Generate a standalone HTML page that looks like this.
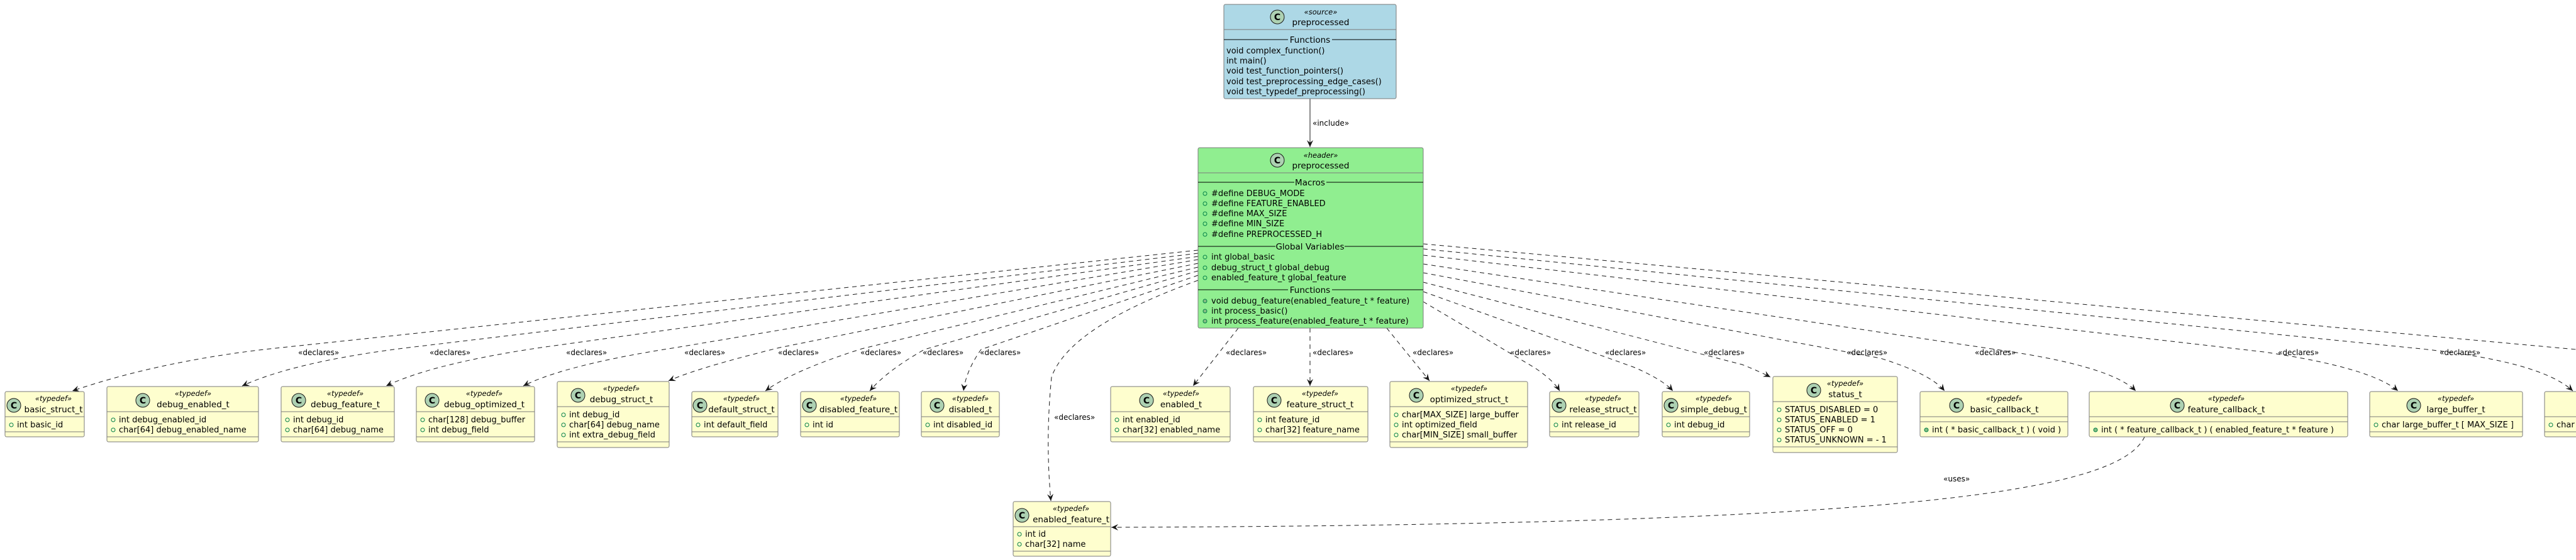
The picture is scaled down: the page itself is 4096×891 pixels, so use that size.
<!DOCTYPE html>
<html><head><meta charset="utf-8">
<style>
html,body{margin:0;padding:0;background:#fff;}
svg{display:block;}
text{font-family:"DejaVu Sans","Liberation Sans",sans-serif;fill:#000;}
.nm{font-size:13.5px;text-anchor:middle;}
.st{font-size:11.5px;font-style:italic;text-anchor:middle;}
.cl{font-size:14px;font-weight:bold;text-anchor:middle;}
.at{font-size:13px;}
.lb{font-size:12px;}
.sec{font-size:13.5px;text-anchor:middle;}
.bx{fill:#FEFECE;stroke:#7a7a7a;stroke-width:1;}
.dv{stroke:#7a7a7a;stroke-width:1;}
.ci{fill:#ADD1B2;stroke:#181818;stroke-width:1;}
.fm{fill:none;stroke:#038048;stroke-width:1;}
.mm{fill:#84BE84;stroke:#038048;stroke-width:1;}
.ed{fill:none;stroke:#181818;stroke-width:1;stroke-dasharray:7,6;}
</style></head>
<body>
<svg width="4096" height="891" viewBox="0 0 4096 891" xmlns="http://www.w3.org/2000/svg">
<defs>
<marker id="ah" viewBox="0 0 12 10" refX="11" refY="5" markerWidth="12" markerHeight="10" markerUnits="userSpaceOnUse" orient="auto">
<path d="M0,0 L11,5 L0,10 L4,5 z" fill="#181818"/>
</marker>
</defs>

<line x1="2083" y1="157" x2="2083" y2="234" stroke="#181818" stroke-width="1" marker-end="url(#ah)"/>
<text class="lb" x="2087" y="200">«include»</text>

<path class="ed" marker-end="url(#ah)" d="M1905,398 L420,556 Q250,576 115,622"/>
<path class="ed" marker-end="url(#ah)" d="M1905,403 L650,553 Q470,575 385,614"/>
<path class="ed" marker-end="url(#ah)" d="M1905,408 L860,553 Q690,578 614,614"/>
<path class="ed" marker-end="url(#ah)" d="M1905,413 L1075,553 Q900,580 832,614"/>
<path class="ed" marker-end="url(#ah)" d="M1905,419 L1240,553 Q1110,585 1063,606"/>
<path class="ed" marker-end="url(#ah)" d="M1905,425 L1370,555 Q1260,590 1217,622"/>
<path class="ed" marker-end="url(#ah)" d="M1905,431 L1470,556 Q1410,590 1383,622"/>
<path class="ed" marker-end="url(#ah)" d="M1905,438 L1560,556 Q1536,590 1532,622"/>
<path class="ed" marker-end="url(#ah)" d="M1905,446 Q1700,520 1672,600 Q1662,700 1671,797"/>

<text class="lb" x="474" y="565">«declares»</text>
<text class="lb" x="683" y="565">«declares»</text>
<text class="lb" x="900" y="565">«declares»</text>
<text class="lb" x="1088" y="565">«declares»</text>
<text class="lb" x="1237" y="565">«declares»</text>
<text class="lb" x="1368" y="565">«declares»</text>
<text class="lb" x="1467" y="565">«declares»</text>
<text class="lb" x="1558" y="565">«declares»</text>
<text class="lb" x="1676" y="668">«declares»</text>

<path class="ed" marker-end="url(#ah)" d="M1969,522 L1897,614"/>
<path class="ed" marker-end="url(#ah)" d="M2083,522 L2083,614"/>
<path class="ed" marker-end="url(#ah)" d="M2205,522 L2273,606"/>
<path class="ed" marker-end="url(#ah)" d="M2263,480 L2440,585 Q2470,605 2480,622"/>
<path class="ed" marker-end="url(#ah)" d="M2263,464 L2600,585 Q2645,605 2660,622"/>
<path class="ed" marker-end="url(#ah)" d="M2263,449 L2770,580 Q2800,592 2815,600"/>
<path class="ed" marker-end="url(#ah)" d="M2263,434 L2990,570 Q3070,595 3092,622"/>
<path class="ed" marker-end="url(#ah)" d="M2263,420 L3200,560 Q3360,585 3396,622"/>
<path class="ed" marker-end="url(#ah)" d="M2263,406 L3600,560 Q3770,585 3813,622"/>
<path class="ed" marker-end="url(#ah)" d="M2263,396 L3850,555 Q4040,575 4091,622"/>
<path class="ed" d="M2263,388 L4096,556"/>

<text class="lb" x="1949" y="565">«declares»</text>
<text class="lb" x="2087" y="565">«declares»</text>
<text class="lb" x="2246" y="565">«declares»</text>
<text class="lb" x="2401" y="565">«declares»</text>
<text class="lb" x="2552" y="565">«declares»</text>
<text class="lb" x="2709" y="565">«declares»</text>
<text class="lb" x="2936" y="565">«declares»</text>
<text class="lb" x="3140" y="565">«declares»</text>
<text class="lb" x="3622" y="565">«declares»</text>
<text class="lb" x="3879" y="565">«declares»</text>

<path class="ed" marker-end="url(#ah)" d="M3410,695 C3370,780 3050,835 1767,839"/>
<text class="lb" x="3090" y="766">«uses»</text>

<rect x="1946" y="7" width="274" height="150" rx="2.5" fill="#ADD8E6" stroke="#7a7a7a"/>
<circle class="ci" cx="2031" cy="27" r="11"/><text class="cl" x="2031" y="32">C</text>
<text class="st" x="2100" y="23">«source»</text>
<text class="nm" x="2100" y="40">preprocessed</text>
<line class="dv" x1="1946" y1="47" x2="2220" y2="47"/>
<line x1="1946" y1="63" x2="2048" y2="63" stroke="#000"/>
<line x1="2118" y1="63" x2="2220" y2="63" stroke="#000"/>
<text class="sec" x="2083" y="68">Functions</text>
<text class="at" x="1950" y="85">void complex_function()</text>
<text class="at" x="1950" y="101">int main()</text>
<text class="at" x="1950" y="117">void test_function_pointers()</text>
<text class="at" x="1950" y="134">void test_preprocessing_edge_cases()</text>
<text class="at" x="1950" y="150">void test_typedef_preprocessing()</text>

<rect x="1905" y="235" width="358" height="287" rx="2.5" fill="#90EE90" stroke="#7a7a7a"/>
<circle class="ci" cx="2031" cy="255" r="11"/><text class="cl" x="2031" y="260">C</text>
<text class="st" x="2100" y="251">«header»</text>
<text class="nm" x="2100" y="268">preprocessed</text>
<line class="dv" x1="1905" y1="275" x2="2263" y2="275"/>
<line x1="1905" y1="290" x2="2058" y2="290" stroke="#000"/>
<line x1="2109" y1="290" x2="2263" y2="290" stroke="#000"/>
<text class="sec" x="2083" y="295">Macros</text>
<circle class="fm" cx="1916" cy="308" r="3"/><text class="at" x="1926" y="312">#define DEBUG_MODE</text>
<circle class="fm" cx="1916" cy="324" r="3"/><text class="at" x="1926" y="328">#define FEATURE_ENABLED</text>
<circle class="fm" cx="1916" cy="340" r="3"/><text class="at" x="1926" y="344">#define MAX_SIZE</text>
<circle class="fm" cx="1916" cy="356" r="3"/><text class="at" x="1926" y="360">#define MIN_SIZE</text>
<circle class="fm" cx="1916" cy="373" r="3"/><text class="at" x="1926" y="377">#define PREPROCESSED_H</text>
<line x1="1905" y1="392" x2="2028" y2="392" stroke="#000"/>
<line x1="2138" y1="392" x2="2263" y2="392" stroke="#000"/>
<text class="sec" x="2083" y="397">Global Variables</text>
<circle class="fm" cx="1916" cy="409" r="3"/><text class="at" x="1926" y="413">int global_basic</text>
<circle class="fm" cx="1916" cy="426" r="3"/><text class="at" x="1926" y="430">debug_struct_t global_debug</text>
<circle class="fm" cx="1916" cy="442" r="3"/><text class="at" x="1926" y="446">enabled_feature_t global_feature</text>
<line x1="1905" y1="461" x2="2048" y2="461" stroke="#000"/>
<line x1="2118" y1="461" x2="2263" y2="461" stroke="#000"/>
<text class="sec" x="2083" y="466">Functions</text>
<circle class="mm" cx="1916" cy="479" r="3"/><text class="at" x="1926" y="483">void debug_feature(enabled_feature_t * feature)</text>
<circle class="mm" cx="1916" cy="495" r="3"/><text class="at" x="1926" y="499">int process_basic()</text>
<circle class="mm" cx="1916" cy="511" r="3"/><text class="at" x="1926" y="515">int process_feature(enabled_feature_t * feature)</text>

<rect class="bx" x="8" y="623" width="126" height="72" rx="2.5"/>
<circle class="ci" cx="22" cy="645" r="11"/><text class="cl" x="22" y="650">C</text>
<text class="st" x="85" y="638">«typedef»</text><text class="nm" x="85" y="656">basic_struct_t</text>
<line class="dv" x1="8" y1="663" x2="134" y2="663"/>
<circle class="fm" cx="18" cy="676" r="3"/><text class="at" x="27" y="680">int basic_id</text>
<line class="dv" x1="8" y1="687" x2="134" y2="687"/>

<rect class="bx" x="170" y="615" width="241" height="88" rx="2.5"/>
<circle class="ci" cx="227" cy="637" r="11"/><text class="cl" x="227" y="642">C</text>
<text class="st" x="307" y="630">«typedef»</text><text class="nm" x="307" y="648">debug_enabled_t</text>
<line class="dv" x1="170" y1="655" x2="411" y2="655"/>
<circle class="fm" cx="180" cy="668" r="3"/><text class="at" x="189" y="672">int debug_enabled_id</text>
<circle class="fm" cx="180" cy="684" r="3"/><text class="at" x="189" y="688">char[64] debug_enabled_name</text>
<line class="dv" x1="170" y1="695" x2="411" y2="695"/>

<rect class="bx" x="447" y="615" width="180" height="88" rx="2.5"/>
<circle class="ci" cx="475" cy="637" r="11"/><text class="cl" x="475" y="642">C</text>
<text class="st" x="549" y="630">«typedef»</text><text class="nm" x="549" y="648">debug_feature_t</text>
<line class="dv" x1="447" y1="655" x2="627" y2="655"/>
<circle class="fm" cx="457" cy="668" r="3"/><text class="at" x="466" y="672">int debug_id</text>
<circle class="fm" cx="457" cy="684" r="3"/><text class="at" x="466" y="688">char[64] debug_name</text>
<line class="dv" x1="447" y1="695" x2="627" y2="695"/>

<rect class="bx" x="662" y="615" width="188" height="88" rx="2.5"/>
<circle class="ci" cx="687" cy="637" r="11"/><text class="cl" x="687" y="642">C</text>
<text class="st" x="770" y="630">«typedef»</text><text class="nm" x="770" y="648">debug_optimized_t</text>
<line class="dv" x1="662" y1="655" x2="850" y2="655"/>
<circle class="fm" cx="672" cy="668" r="3"/><text class="at" x="681" y="672">char[128] debug_buffer</text>
<circle class="fm" cx="672" cy="684" r="3"/><text class="at" x="681" y="688">int debug_field</text>
<line class="dv" x1="662" y1="695" x2="850" y2="695"/>

<rect class="bx" x="886" y="607" width="178" height="105" rx="2.5"/>
<circle class="ci" cx="919" cy="629" r="11"/><text class="cl" x="919" y="634">C</text>
<text class="st" x="988" y="622">«typedef»</text><text class="nm" x="988" y="640">debug_struct_t</text>
<line class="dv" x1="886" y1="647" x2="1064" y2="647"/>
<circle class="fm" cx="896" cy="660" r="3"/><text class="at" x="905" y="664">int debug_id</text>
<circle class="fm" cx="896" cy="676" r="3"/><text class="at" x="905" y="680">char[64] debug_name</text>
<circle class="fm" cx="896" cy="692" r="3"/><text class="at" x="905" y="696">int extra_debug_field</text>
<line class="dv" x1="886" y1="703" x2="1064" y2="703"/>

<rect class="bx" x="1100" y="623" width="137" height="72" rx="2.5"/>
<circle class="ci" cx="1113" cy="645" r="11"/><text class="cl" x="1113" y="650">C</text>
<text class="st" x="1179" y="638">«typedef»</text><text class="nm" x="1179" y="656">default_struct_t</text>
<line class="dv" x1="1100" y1="663" x2="1237" y2="663"/>
<circle class="fm" cx="1110" cy="676" r="3"/><text class="at" x="1119" y="680">int default_field</text>
<line class="dv" x1="1100" y1="687" x2="1237" y2="687"/>

<rect class="bx" x="1273" y="623" width="157" height="72" rx="2.5"/>
<circle class="ci" cx="1287" cy="645" r="11"/><text class="cl" x="1287" y="650">C</text>
<text class="st" x="1365" y="638">«typedef»</text><text class="nm" x="1365" y="656">disabled_feature_t</text>
<line class="dv" x1="1273" y1="663" x2="1430" y2="663"/>
<circle class="fm" cx="1283" cy="676" r="3"/><text class="at" x="1292" y="680">int id</text>
<line class="dv" x1="1273" y1="687" x2="1430" y2="687"/>

<rect class="bx" x="1465" y="623" width="124" height="72" rx="2.5"/>
<circle class="ci" cx="1490" cy="645" r="11"/><text class="cl" x="1490" y="650">C</text>
<text class="st" x="1543" y="638">«typedef»</text><text class="nm" x="1543" y="656">disabled_t</text>
<line class="dv" x1="1465" y1="663" x2="1589" y2="663"/>
<circle class="fm" cx="1475" cy="676" r="3"/><text class="at" x="1484" y="680">int disabled_id</text>
<line class="dv" x1="1465" y1="687" x2="1589" y2="687"/>

<rect class="bx" x="1766" y="615" width="190" height="88" rx="2.5"/>
<circle class="ci" cx="1823" cy="637" r="11"/><text class="cl" x="1823" y="642">C</text>
<text class="st" x="1878" y="630">«typedef»</text><text class="nm" x="1878" y="648">enabled_t</text>
<line class="dv" x1="1766" y1="655" x2="1956" y2="655"/>
<circle class="fm" cx="1776" cy="668" r="3"/><text class="at" x="1785" y="672">int enabled_id</text>
<circle class="fm" cx="1776" cy="684" r="3"/><text class="at" x="1785" y="688">char[32] enabled_name</text>
<line class="dv" x1="1766" y1="695" x2="1956" y2="695"/>

<rect class="bx" x="1993" y="615" width="182" height="88" rx="2.5"/>
<circle class="ci" cx="2026" cy="637" r="11"/><text class="cl" x="2026" y="642">C</text>
<text class="st" x="2099" y="630">«typedef»</text><text class="nm" x="2099" y="648">feature_struct_t</text>
<line class="dv" x1="1993" y1="655" x2="2175" y2="655"/>
<circle class="fm" cx="2003" cy="668" r="3"/><text class="at" x="2012" y="672">int feature_id</text>
<circle class="fm" cx="2003" cy="684" r="3"/><text class="at" x="2012" y="688">char[32] feature_name</text>
<line class="dv" x1="1993" y1="695" x2="2175" y2="695"/>

<rect class="bx" x="2210" y="607" width="219" height="105" rx="2.5"/>
<circle class="ci" cx="2252" cy="629" r="11"/><text class="cl" x="2252" y="634">C</text>
<text class="st" x="2336" y="622">«typedef»</text><text class="nm" x="2336" y="640">optimized_struct_t</text>
<line class="dv" x1="2210" y1="647" x2="2429" y2="647"/>
<circle class="fm" cx="2220" cy="660" r="3"/><text class="at" x="2229" y="664">char[MAX_SIZE] large_buffer</text>
<circle class="fm" cx="2220" cy="676" r="3"/><text class="at" x="2229" y="680">int optimized_field</text>
<circle class="fm" cx="2220" cy="692" r="3"/><text class="at" x="2229" y="696">char[MIN_SIZE] small_buffer</text>
<line class="dv" x1="2210" y1="703" x2="2429" y2="703"/>

<rect class="bx" x="2464" y="623" width="142" height="72" rx="2.5"/>
<circle class="ci" cx="2479" cy="645" r="11"/><text class="cl" x="2479" y="650">C</text>
<text class="st" x="2549" y="638">«typedef»</text><text class="nm" x="2549" y="656">release_struct_t</text>
<line class="dv" x1="2464" y1="663" x2="2606" y2="663"/>
<circle class="fm" cx="2474" cy="676" r="3"/><text class="at" x="2483" y="680">int release_id</text>
<line class="dv" x1="2464" y1="687" x2="2606" y2="687"/>

<rect class="bx" x="2643" y="623" width="139" height="72" rx="2.5"/>
<circle class="ci" cx="2657" cy="645" r="11"/><text class="cl" x="2657" y="650">C</text>
<text class="st" x="2725" y="638">«typedef»</text><text class="nm" x="2725" y="656">simple_debug_t</text>
<line class="dv" x1="2643" y1="663" x2="2782" y2="663"/>
<circle class="fm" cx="2653" cy="676" r="3"/><text class="at" x="2662" y="680">int debug_id</text>
<line class="dv" x1="2643" y1="687" x2="2782" y2="687"/>

<rect class="bx" x="2819" y="599" width="198" height="121" rx="2.5"/>
<circle class="ci" cx="2884" cy="621" r="11"/><text class="cl" x="2884" y="626">C</text>
<text class="st" x="2934" y="614">«typedef»</text><text class="nm" x="2934" y="632">status_t</text>
<line class="dv" x1="2819" y1="639" x2="3017" y2="639"/>
<circle class="fm" cx="2829" cy="652" r="3"/><text class="at" x="2838" y="656">STATUS_DISABLED = 0</text>
<circle class="fm" cx="2829" cy="668" r="3"/><text class="at" x="2838" y="672">STATUS_ENABLED = 1</text>
<circle class="fm" cx="2829" cy="684" r="3"/><text class="at" x="2838" y="688">STATUS_OFF = 0</text>
<circle class="fm" cx="2829" cy="700" r="3"/><text class="at" x="2838" y="704">STATUS_UNKNOWN = - 1</text>
<line class="dv" x1="2819" y1="711" x2="3017" y2="711"/>

<rect class="bx" x="3053" y="623" width="235" height="72" rx="2.5"/>
<circle class="ci" cx="3111" cy="645" r="11"/><text class="cl" x="3111" y="650">C</text>
<text class="st" x="3187" y="638">«typedef»</text><text class="nm" x="3187" y="656">basic_callback_t</text>
<line class="dv" x1="3053" y1="663" x2="3288" y2="663"/>
<line class="dv" x1="3053" y1="671" x2="3288" y2="671"/>
<circle class="mm" cx="3063" cy="684" r="3"/><text class="at" x="3072" y="688">int ( * basic_callback_t ) ( void )</text>

<rect class="bx" x="3322" y="623" width="411" height="72" rx="2.5"/>
<circle class="ci" cx="3462" cy="645" r="11"/><text class="cl" x="3462" y="650">C</text>
<text class="st" x="3540" y="638">«typedef»</text><text class="nm" x="3540" y="656">feature_callback_t</text>
<line class="dv" x1="3322" y1="663" x2="3733" y2="663"/>
<line class="dv" x1="3322" y1="671" x2="3733" y2="671"/>
<circle class="mm" cx="3332" cy="684" r="3"/><text class="at" x="3341" y="688">int ( * feature_callback_t ) ( enabled_feature_t * feature )</text>

<rect class="bx" x="3768" y="623" width="243" height="72" rx="2.5"/>
<circle class="ci" cx="3838" cy="645" r="11"/><text class="cl" x="3838" y="650">C</text>
<text class="st" x="3905" y="638">«typedef»</text><text class="nm" x="3905" y="656">large_buffer_t</text>
<line class="dv" x1="3768" y1="663" x2="4011" y2="663"/>
<circle class="fm" cx="3778" cy="676" r="3"/><text class="at" x="3787" y="680">char large_buffer_t [ MAX_SIZE ]</text>
<line class="dv" x1="3768" y1="687" x2="4011" y2="687"/>

<rect class="bx" x="4046" y="623" width="120" height="72" rx="2.5"/>
<line class="dv" x1="4046" y1="663" x2="4096" y2="663"/>
<circle class="fm" cx="4056" cy="676" r="3"/><text class="at" x="4065" y="680">char small_buffer_t</text>
<line class="dv" x1="4046" y1="687" x2="4096" y2="687"/>

<rect class="bx" x="1611" y="798" width="155" height="87" rx="2.5"/>
<circle class="ci" cx="1625" cy="820" r="11"/><text class="cl" x="1625" y="825">C</text>
<text class="st" x="1703" y="813">«typedef»</text><text class="nm" x="1703" y="831">enabled_feature_t</text>
<line class="dv" x1="1611" y1="838" x2="1766" y2="838"/>
<circle class="fm" cx="1621" cy="850" r="3"/><text class="at" x="1630" y="854">int id</text>
<circle class="fm" cx="1621" cy="866" r="3"/><text class="at" x="1630" y="870">char[32] name</text>
<line class="dv" x1="1611" y1="877" x2="1766" y2="877"/>
</svg>
</body></html>
